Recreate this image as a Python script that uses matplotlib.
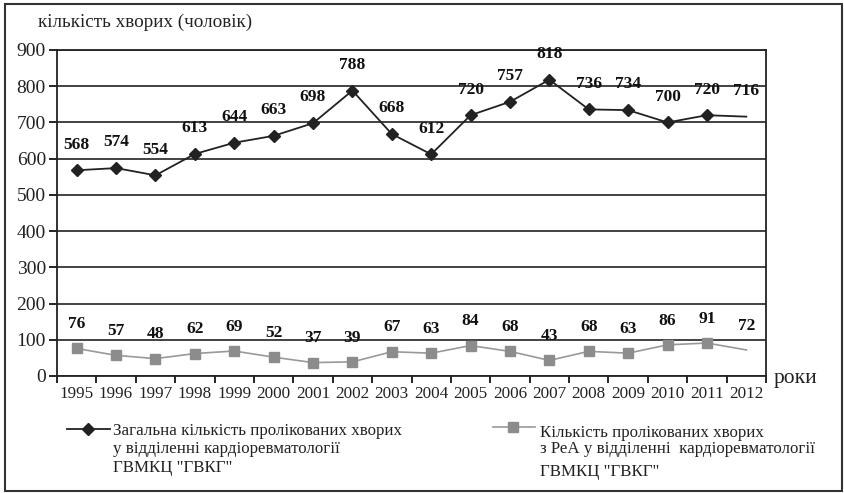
import matplotlib.pyplot as plt
from matplotlib.lines import Line2D
from matplotlib.patches import Rectangle

plt.rcParams['font.family'] = ['Liberation Serif', 'DejaVu Serif']

years = [str(y) for y in range(1995, 2013)]
total = [568, 574, 554, 613, 644, 663, 698, 788, 668, 612, 720, 757, 818, 736, 734, 700, 720, 716]
rea = [76, 57, 48, 62, 69, 52, 37, 39, 67, 63, 84, 68, 43, 68, 63, 86, 91, 72]

total_label = "Загальна кількість пролікованих хворих\nу відділенні кардіоревматології\nГВМКЦ \"ГВКГ\""
rea_label = "Кількість пролікованих хворих\nз РеА у відділенні  кардіоревматології"
rea_label_tail = "ГВМКЦ \"ГВКГ\""

DARK = '#222222'
GREY_LINE = '#999999'
GREY_MARK = '#8c8c8c'

W, H = 844, 493
fig = plt.figure(figsize=(W / 100, H / 100), dpi=100)
fig.patches.append(Rectangle((5 / W, 2 / H), 837 / W, 487 / H, transform=fig.transFigure,
                             fill=False, edgecolor='#333333', linewidth=1.5))

ax = fig.add_axes([57 / W, 117 / H, 709 / W, 326 / H])
x = list(range(len(years)))

# black series: diamonds everywhere except the last year
ax.plot(x, total, color=DARK, linewidth=1.3, zorder=3)
ax.plot(x[:-1], total[:-1], linestyle='none', marker='D', markersize=6.3,
        color=DARK, zorder=4)
# grey series: squares everywhere except the last year
ax.plot(x, rea, color=GREY_LINE, linewidth=1.2, zorder=3)
ax.plot(x[:-1], rea[:-1], linestyle='none', marker='s', markersize=7.5,
        color=GREY_MARK, zorder=4)

for xi, v in zip(x, total):
    ax.annotate(str(v), (xi, v), xytext=(0, 18.5), textcoords='offset points',
                ha='center', va='center', fontsize=12.5, fontweight='bold', color='#111111')
for xi, v in zip(x, rea):
    ax.annotate(str(v), (xi, v), xytext=(0, 17.5), textcoords='offset points',
                ha='center', va='center', fontsize=12.5, fontweight='bold', color='#111111')

ax.set_xlim(-0.5, len(years) - 0.5)
ax.set_ylim(0, 900)
ax.set_yticks(range(0, 1000, 100))
ax.tick_params(axis='y', labelsize=14, direction='out', length=6, width=1.2, pad=2,
               labelcolor=DARK)
ax.set_xticks(x)
ax.set_xticklabels(years)
ax.set_xticks([i - 0.5 for i in range(len(years) + 1)], minor=True)
ax.tick_params(axis='x', which='major', length=0, labelsize=12.3, pad=7, labelcolor=DARK)
ax.tick_params(axis='x', which='minor', direction='out', length=5, width=1.2)
ax.grid(axis='y', color=DARK, linewidth=1.2)
ax.set_axisbelow(True)
for side in ['left', 'right', 'top', 'bottom']:
    ax.spines[side].set_color(DARK)
    ax.spines[side].set_linewidth(1.3)

fig.text(38 / W, 1 - 22 / H, "кількість хворих (чоловік)", fontsize=13.8,
         ha='left', va='center', color=DARK)
fig.text(774 / W, 1 - 379 / H, "роки", fontsize=15.5, ha='left', va='center', color=DARK)

# legend entries drawn by hand so the key sits on the first text line
def fy(py):
    return 1 - py / H

fig.add_artist(Line2D([67 / W, 110 / W], [fy(429), fy(429)], color=DARK, linewidth=1.3))
fig.add_artist(Line2D([88 / W], [fy(429)], color=DARK, marker='D', markersize=6.3))
fig.text(113 / W, fy(423), total_label, fontsize=12.2, ha='left', va='top',
         linespacing=1.2, color=DARK)

fig.add_artist(Line2D([493 / W, 535 / W], [fy(427), fy(427)], color=GREY_LINE, linewidth=1.2))
fig.add_artist(Line2D([513 / W], [fy(427)], color=GREY_MARK, marker='s', markersize=7.5))
fig.text(540 / W, fy(425), rea_label, fontsize=12.2, ha='left', va='top',
         linespacing=0.98, color=DARK)
fig.text(540 / W, fy(472), rea_label_tail, fontsize=12.2, ha='left', va='center', color=DARK)

fig.savefig('out.png', dpi=100)
